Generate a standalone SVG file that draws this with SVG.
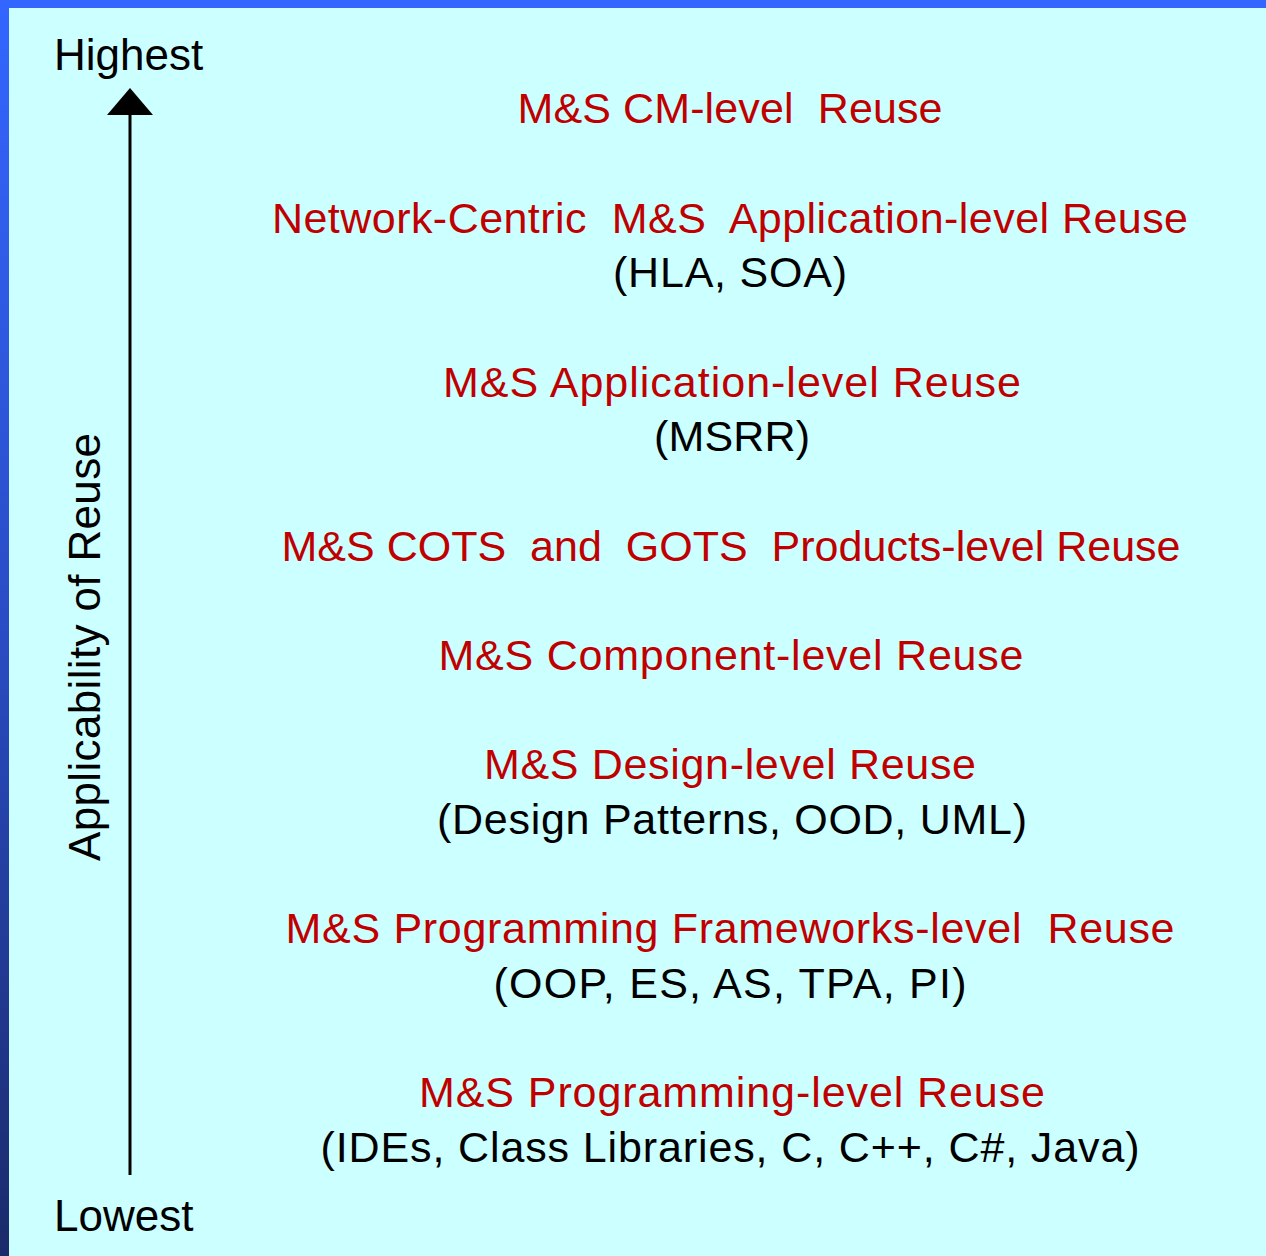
<svg xmlns="http://www.w3.org/2000/svg" width="1266" height="1256" viewBox="0 0 1266 1256">
<defs>
<linearGradient id="edge" x1="0" y1="0" x2="0" y2="1">
<stop offset="0" stop-color="#3366FF"/>
<stop offset="0.5" stop-color="#2a4cc4"/>
<stop offset="1" stop-color="#1a2a6a"/>
</linearGradient>
<style>
text{font-family:"Liberation Sans",Arial,sans-serif;white-space:pre}
.red{fill:#C00000;font-size:43px;text-anchor:middle}
.blk{fill:#000;font-size:43px;text-anchor:middle}
.axis{fill:#000;font-size:44px}
</style>
</defs>
<rect x="0" y="0" width="1266" height="1256" fill="#CCFFFF"/>
<rect x="0" y="0" width="1266" height="8" fill="#3366FF"/>
<rect x="0" y="0" width="9" height="1256" fill="url(#edge)"/>

<g id="connectors">
<line x1="130" y1="1175" x2="130" y2="112" stroke="#000" stroke-width="3"/>
<polygon points="130,88 153,115 107,115" fill="#000"/>
</g>

<g id="axis-labels">
<text class="axis" x="54" y="70">Highest</text>
<text class="axis" x="54" y="1231">Lowest</text>
<text class="axis" text-anchor="middle" textLength="428" lengthAdjust="spacing" transform="translate(100,647) rotate(-90)">Applicability of Reuse</text>
</g>

<g id="level-cm">
<text class="red" xml:space="preserve" x="730" y="123" textLength="425" lengthAdjust="spacing">M&amp;S CM-level  Reuse</text>
</g>
<g id="level-netcentric">
<text class="red" xml:space="preserve" x="730" y="233" textLength="916" lengthAdjust="spacing">Network-Centric  M&amp;S  Application-level Reuse</text>
<text class="blk" x="730" y="287" textLength="234" lengthAdjust="spacing">(HLA, SOA)</text>
</g>
<g id="level-application">
<text class="red" x="732" y="397" textLength="578" lengthAdjust="spacing">M&amp;S Application-level Reuse</text>
<text class="blk" x="732" y="451" textLength="156" lengthAdjust="spacing">(MSRR)</text>
</g>
<g id="level-cots">
<text class="red" xml:space="preserve" x="731" y="561" textLength="899" lengthAdjust="spacing">M&amp;S COTS  and  GOTS  Products-level Reuse</text>
</g>
<g id="level-component">
<text class="red" x="731" y="670" textLength="585" lengthAdjust="spacing">M&amp;S Component-level Reuse</text>
</g>
<g id="level-design">
<text class="red" x="730" y="779" textLength="492" lengthAdjust="spacing">M&amp;S Design-level Reuse</text>
<text class="blk" x="732" y="834" textLength="590" lengthAdjust="spacing">(Design Patterns, OOD, UML)</text>
</g>
<g id="level-frameworks">
<text class="red" xml:space="preserve" x="730" y="943" textLength="889" lengthAdjust="spacing">M&amp;S Programming Frameworks-level  Reuse</text>
<text class="blk" x="730" y="998" textLength="473" lengthAdjust="spacing">(OOP, ES, AS, TPA, PI)</text>
</g>
<g id="level-programming">
<text class="red" x="732" y="1107" textLength="626" lengthAdjust="spacing">M&amp;S Programming-level Reuse</text>
<text class="blk" x="730" y="1162" textLength="819" lengthAdjust="spacing">(IDEs, Class Libraries, C, C++, C#, Java)</text>
</g>
</svg>
